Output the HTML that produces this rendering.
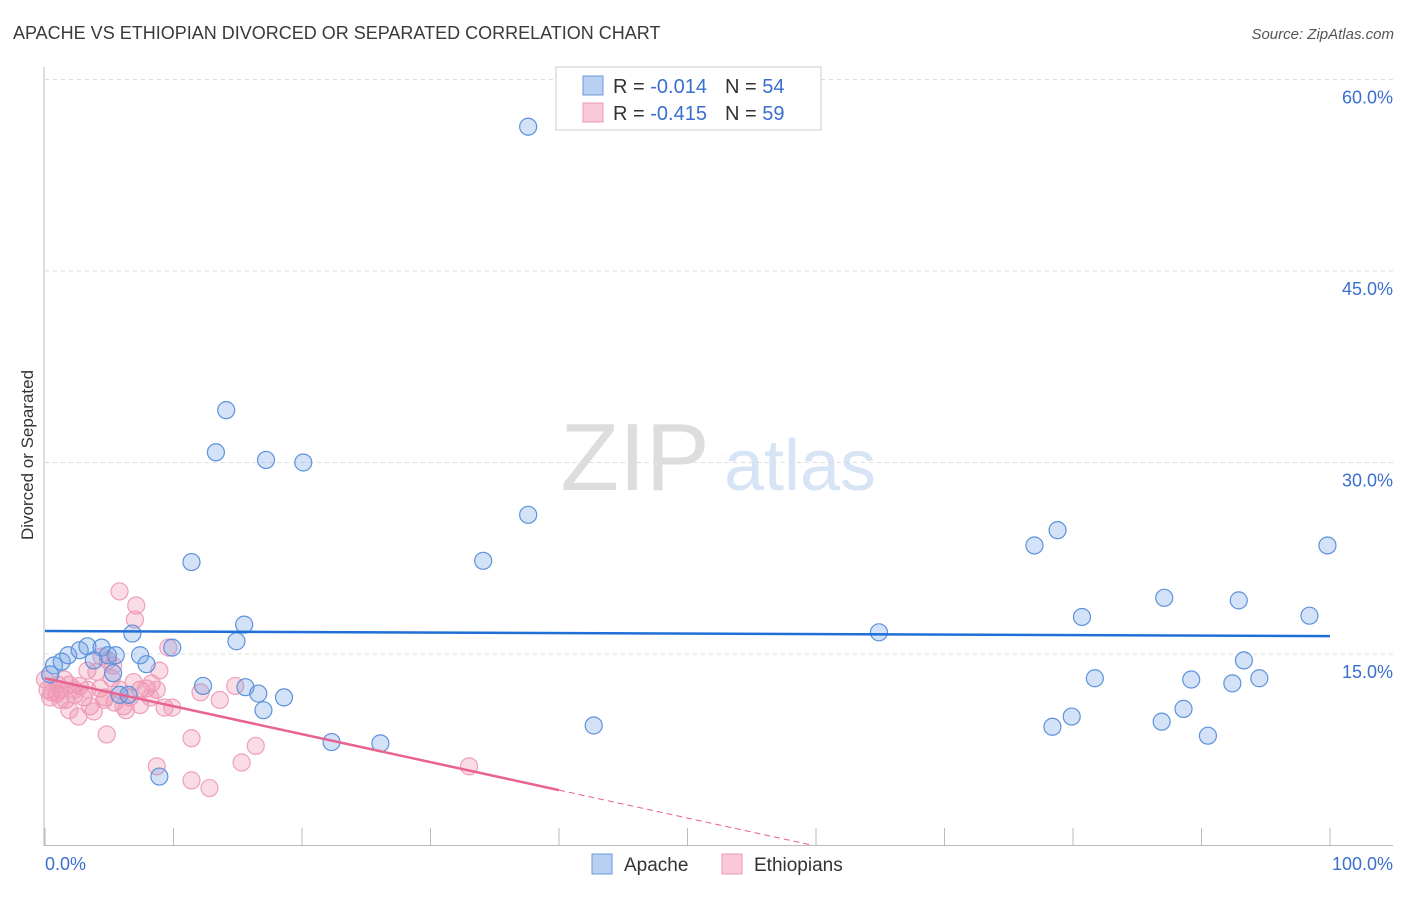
<!DOCTYPE html>
<html><head><meta charset="utf-8"><style>
body{margin:0;background:#fff;font-family:"Liberation Sans",sans-serif;}
svg text{font-family:"Liberation Sans",sans-serif;}
</style></head><body>
<svg id="chart" width="1406" height="892" viewBox="0 0 1406 892" xmlns="http://www.w3.org/2000/svg">
<text x="13" y="39" font-size="18" fill="#3a3a3a">APACHE VS ETHIOPIAN DIVORCED OR SEPARATED CORRELATION CHART</text>
<text x="1394" y="39" font-size="15" font-style="italic" fill="#555" text-anchor="end">Source: ZipAtlas.com</text>
<g>
<text x="635" y="490" font-size="96" font-family="Liberation Serif" fill="#ddd" text-anchor="middle">ZIP</text>
<text x="800" y="490" font-size="72" fill="#d6e4f5" text-anchor="middle">atlas</text>
</g>
<g id="grid"></g>
<g id="axes"></g>
<g id="points"></g>
<g id="trends"></g>
<text transform="translate(33,455) rotate(-90)" font-size="17" fill="#333" text-anchor="middle">Divorced or Separated</text>
<g>
<rect x="556" y="67" width="265" height="63" fill="#fff" stroke="#ccc"/>
<rect x="583" y="76" width="20" height="19" fill="#b8d1f3" stroke="#6a9ad8"/>
<rect x="583" y="103" width="20" height="19" fill="#f9c9d7" stroke="#ee9ab5"/>
<text x="613" y="93" font-size="20" fill="#333">R = <tspan fill="#3a6fd0">-0.014</tspan><tspan dx="18" fill="#333">N = </tspan><tspan fill="#3a6fd0">54</tspan></text>
<text x="613" y="120" font-size="20" fill="#333">R = <tspan fill="#3a6fd0">-0.415</tspan><tspan dx="18" fill="#333">N = </tspan><tspan fill="#3a6fd0">59</tspan></text>
</g>
<g>
<rect x="592" y="854" width="20" height="20" fill="#b8d1f3" stroke="#6a9ad8"/>
<text x="624" y="871" font-size="19" fill="#333">Apache</text>
<rect x="722" y="854" width="20" height="20" fill="#f9c9d7" stroke="#ee9ab5"/>
<text x="754" y="871" font-size="19" fill="#333">Ethiopians</text>
</g>
</svg>
<script>
const apacheX=[37.6,14.1,13.3,17.2,20.1,37.6,11.4,34.1,15.5,14.9,6.8,9.9,7.4,7.9,0.7,1.3,1.8,2.7,3.3,4.4,4.9,3.8,5.3,5.8,6.5,12.3,15.6,16.6,17.0,18.6,22.3,26.1,8.9,42.7,64.9,77.0,78.8,80.7,81.7,79.9,78.4,87.1,92.9,98.4,99.8,89.2,88.6,86.9,90.5,92.4,93.3,94.5,0.4,5.5];
const apacheY=[56.3,34.1,30.8,30.2,30.0,25.9,22.2,22.3,17.3,16.0,16.6,15.5,14.9,14.2,14.1,14.4,14.9,15.3,15.6,15.5,14.9,14.5,13.5,11.8,11.8,12.5,12.4,11.9,10.6,11.6,8.1,8.0,5.4,9.4,16.7,23.5,24.7,17.9,13.1,10.1,9.3,19.4,19.2,18.0,23.5,13.0,10.7,9.7,8.6,12.7,14.5,13.1,13.4,14.9];
const ethX=[5.8,7.1,7.0,9.6,8.9,4.4,4.9,5.3,3.3,4.0,1.5,1.9,2.7,4.3,5.2,5.8,6.6,7.4,7.9,8.3,8.7,0.2,0.5,0.9,1.2,1.6,2.3,3.0,3.5,3.8,2.6,4.6,5.4,6.1,6.3,7.4,9.3,9.9,4.8,11.4,16.4,8.7,15.3,11.4,12.8,33.0,14.8,13.6,12.1,8.2,1.2,0.4,1.9,0.0,3.3,6.9,1.0,2.3,4.7];
const ethY=[19.9,18.8,17.7,15.5,13.7,14.8,14.5,14.1,13.7,13.6,13.0,12.6,12.5,12.3,13.1,12.2,11.6,12.2,12.3,12.7,12.2,12.2,12.0,11.9,12.2,11.4,11.8,11.6,10.9,10.5,10.1,11.4,11.2,10.9,10.6,11.0,10.8,10.8,8.7,8.4,7.8,6.2,6.5,5.1,4.5,6.2,12.5,11.4,12.0,11.6,11.4,11.6,10.6,13.0,12.2,12.8,12.6,12.2,11.6];
const apacheTrend=[16.8,16.4]; // y at x=0 and x=100
const ethTrend=[13.1,-0.219]; // intercept, slope
const ethSolidEnd=40, ethDashEnd=59.5;
const yTicks=[15,30,45,60];
const xTickLabels=["0.0%","100.0%"];

const NS="http://www.w3.org/2000/svg";
const X0=45,X1=1330,YB=845.5,PPY=12.767;
const sx=v=>X0+(X1-X0)*v/100;
const sy=v=>YB-v*PPY;
function mk(tag,attrs,parent){const e=document.createElementNS(NS,tag);for(const k in attrs)e.setAttribute(k,attrs[k]);parent.appendChild(e);return e;}
const grid=document.getElementById('grid'),axes=document.getElementById('axes'),pts=document.getElementById('points'),tr=document.getElementById('trends');
yTicks.forEach(t=>{
  const l=mk('line',{x1:45,x2:1393,y1:sy(t),y2:sy(t),stroke:'#ddd','stroke-dasharray':'4,4'},grid);
  
  
  const tx=mk('text',{x:1393,y:sy(t)+24,'font-size':18,fill:'#3a6fd0','text-anchor':'end'},grid);
  tx.textContent=t.toFixed(1)+'%';
  
  
});
let a=mk('line',{x1:44,x2:44,y1:67,y2:846,stroke:'#bbb'},axes);


a=mk('line',{x1:44,x2:1393,y1:845.5,y2:845.5,stroke:'#bbb'},axes);


for(let i=0;i<=10;i++){
  const t=mk('line',{x1:sx(i*10),x2:sx(i*10),y1:828,y2:845,stroke:'#bbb'},axes);
  
  
}
[[0,'start',45],[100,'end',1393]].forEach((d,i)=>{
  const t=mk('text',{x:d[2],y:870,'font-size':18,fill:'#3a6fd0','text-anchor':d[1]},axes);
  t.textContent=xTickLabels[i];
  
  
});
ethX.forEach((x,i)=>{
  const c=mk('circle',{cx:sx(x),cy:sy(ethY[i]),r:8.5,fill:'rgba(240,140,170,0.3)',stroke:'#ef9fbb','stroke-width':1.2},pts);
  
  
});
apacheX.forEach((x,i)=>{
  const c=mk('circle',{cx:sx(x),cy:sy(apacheY[i]),r:8.5,fill:'rgba(110,160,230,0.3)',stroke:'#5d92dc','stroke-width':1.2},pts);
  
  
});
let l=mk('line',{x1:sx(0),y1:sy(apacheTrend[0]),x2:sx(100),y2:sy(apacheTrend[1]),stroke:'#1f6fd6','stroke-width':2.5},tr);


const ey=x=>ethTrend[0]+ethTrend[1]*x;
l=mk('line',{x1:sx(0),y1:sy(ey(0)),x2:sx(ethSolidEnd),y2:sy(ey(ethSolidEnd)),stroke:'#e8638f','stroke-width':2.5},tr);


l=mk('line',{x1:sx(ethSolidEnd),y1:sy(ey(ethSolidEnd)),x2:sx(ethDashEnd),y2:sy(ey(ethDashEnd)),stroke:'#e8638f','stroke-width':1,'stroke-dasharray':'6,4'},tr);


</script>
</body></html>
